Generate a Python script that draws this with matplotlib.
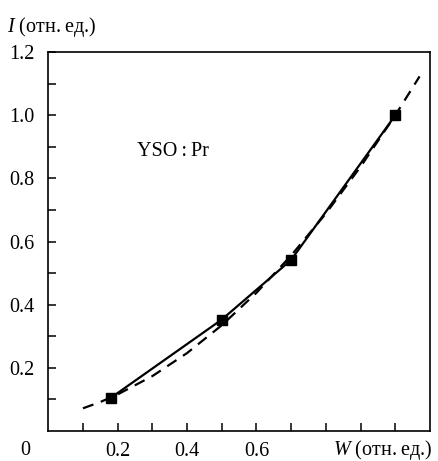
import matplotlib
matplotlib.use("Agg")
import matplotlib.pyplot as plt

plt.rcParams['font.family'] = ['Liberation Serif', 'DejaVu Serif']
plt.rcParams['mathtext.fontset'] = 'custom'
plt.rcParams['mathtext.it'] = 'Liberation Serif:italic'
plt.rcParams['mathtext.rm'] = 'Liberation Serif'

# measured points
w_meas = [0.18, 0.50, 0.70, 1.00]
i_meas = [0.105, 0.353, 0.542, 1.00]

# dashed fit curve
w_fit = [0.10, 0.15, 0.20, 0.30, 0.40, 0.50, 0.60, 0.70, 0.80, 0.90, 1.00, 1.07]
i_fit = [0.072, 0.092, 0.116, 0.174, 0.247, 0.335, 0.438, 0.556, 0.689, 0.837, 1.00, 1.123]

x_ticks = [0.1, 0.2, 0.3, 0.4, 0.5, 0.6, 0.7, 0.8, 0.9, 1.0]
x_labels = ['', '0.2', '', '0.4', '', '0.6', '', '', '', '']
y_ticks = [0.1, 0.2, 0.3, 0.4, 0.5, 0.6, 0.7, 0.8, 0.9, 1.0, 1.1, 1.2]
y_labels = ['', '0.2', '', '0.4', '', '0.6', '', '0.8', '', '1.0', '', '1.2']


def main():
    fs = 14.5
    fig = plt.figure(figsize=(4.39, 4.61), dpi=100)
    ax = fig.add_axes([0.110, 0.065, 0.8695, 0.822])

    ax.plot(w_fit, i_fit, color='black', lw=1.6, ls=(0, (5, 3.5)))
    ax.plot(w_meas, i_meas, color='black', lw=1.6, marker='s', ms=6.5)

    ax.set_xlim(0, 1.1)
    ax.set_ylim(0, 1.2)

    ax.set_xticks(x_ticks, labels=x_labels, fontsize=fs)
    ax.set_yticks(y_ticks, labels=y_labels, fontsize=fs)
    ax.tick_params(direction='in', length=6, width=1.1, top=False, right=False)
    ax.tick_params(axis='x', pad=8)
    ax.tick_params(axis='y', pad=10)

    for sp in ax.spines.values():
        sp.set_linewidth(1.2)

    ax.text(25 / 439, 11 / 461, '0', transform=fig.transFigure,
            ha='center', va='center', fontsize=fs)
    ax.text(432 / 439, 11 / 461, r'$\mathit{W}$ (отн.' + '\u2009' + 'ед.)',
            transform=fig.transFigure, ha='right', va='center', fontsize=fs)
    ax.text(7 / 439, 1 - 27 / 461, r'$\mathit{I}$ (отн.' + '\u2009' + 'ед.)',
            transform=fig.transFigure, ha='left', va='center', fontsize=fs)

    ax.text(0.36, 0.885, 'YSO\u2009:\u2009Pr', ha='center', va='center', fontsize=fs)

    fig.savefig('out.png', dpi=100)


if __name__ == '__main__':
    main()
